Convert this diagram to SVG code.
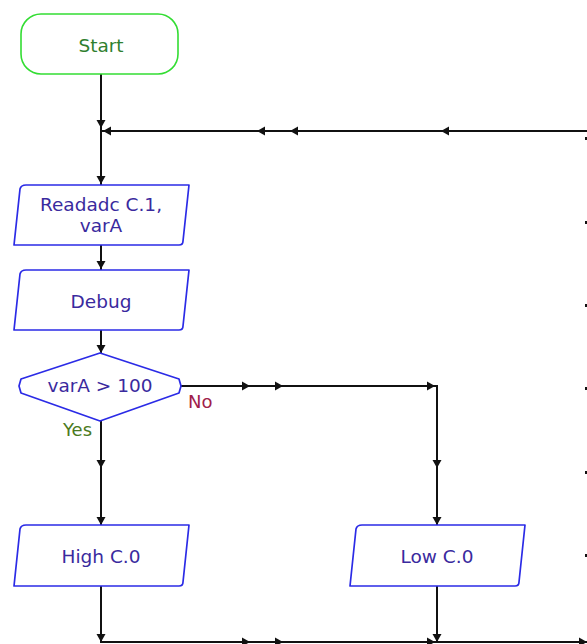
<svg xmlns="http://www.w3.org/2000/svg" width="587" height="644" viewBox="0 0 587 644">
<style>
.box{fill:#fff;stroke:#2b2be6;stroke-width:1.7;stroke-linejoin:round}
.start{fill:#fff;stroke:#33dd33;stroke-width:1.6}
.t{font-family:"DejaVu Sans","Verdana",sans-serif;font-size:18.5px;text-anchor:middle;fill:#3a2a9e}
.ts{fill:#2f7f2f}
.no{font-family:"DejaVu Sans",sans-serif;font-size:18px;fill:#a0204a}
.yes{font-family:"DejaVu Sans",sans-serif;font-size:18px;fill:#4a7a20}
.ln{fill:none;stroke:#111;stroke-width:2}
.ah{fill:#111}
</style>
<defs>
<path id="ad" d="M-4.5,-8 L4.5,-8 L0,0 Z"/>
<path id="al" d="M0,0 L8,-4.5 L8,4.5 Z"/>
<path id="ar" d="M0,0 L-8,-4.5 L-8,4.5 Z"/>
</defs>
<g id="connectors">
<path class="ln" d="M101,74 V525"/>
<path class="ln" d="M587,131 H101"/>
<path class="ln" d="M181,386 H437 V525"/>
<path class="ln" d="M101,586 V642 H587"/>
<path class="ln" d="M437,586 V642"/>
<g class="ah">
<use href="#ad" x="101" y="128"/>
<use href="#ad" x="101" y="184"/>
<use href="#ad" x="101" y="269"/>
<use href="#ad" x="101" y="353"/>
<use href="#ad" x="101" y="468"/>
<use href="#ad" x="101" y="525"/>
<use href="#ad" x="437" y="468"/>
<use href="#ad" x="437" y="525"/>
<use href="#ad" x="101" y="642"/>
<use href="#ad" x="437" y="642"/>
<use href="#al" x="103" y="131"/>
<use href="#al" x="257" y="131"/>
<use href="#al" x="290" y="131"/>
<use href="#al" x="441" y="131"/>
<use href="#ar" x="250" y="386"/>
<use href="#ar" x="283" y="386"/>
<use href="#ar" x="435" y="386"/>
<use href="#ar" x="250" y="642"/>
<use href="#ar" x="283" y="642"/>
<use href="#ar" x="435" y="642"/>
<use href="#ar" x="587" y="642"/>
<rect x="585" y="137" width="2" height="3"/>
<rect x="585" y="221" width="2" height="3"/>
<rect x="585" y="304" width="2" height="3"/>
<rect x="585" y="387" width="2" height="3"/>
<rect x="585" y="471" width="2" height="3"/>
<rect x="585" y="554" width="2" height="3"/>
</g>
<text class="no" x="188" y="408">No</text>
<text class="yes" x="63" y="436">Yes</text>
</g>
<g id="start">
<rect class="start" x="21" y="14" width="157" height="60" rx="20" ry="20"/>
<text class="t ts" x="101" y="52">Start</text>
</g>
<g id="readadc">
<path class="box" d="M26,185 H189 L183,241 Q183,245 179,245 H14 L20,189 Q21,185 26,185 Z"/>
<text class="t" x="101" y="211">Readadc C.1,</text>
<text class="t" x="101" y="232">varA</text>
</g>
<g id="debug">
<path class="box" d="M26,270 H189 L183,326 Q183,330 179,330 H14 L20,274 Q21,270 26,270 Z"/>
<text class="t" x="101" y="308">Debug</text>
</g>
<g id="decision">
<polygon class="box" points="21,379 100,353 179,379 181,386 179,393 100,421 21,393 19,386"/>
<text class="t" x="100" y="392">varA &gt; 100</text>
</g>
<g id="high">
<path class="box" d="M26,525 H189 L183,582 Q183,586 179,586 H14 L20,529 Q21,525 26,525 Z"/>
<text class="t" x="101" y="563">High C.0</text>
</g>
<g id="low">
<path class="box" d="M362,525 H525 L519,582 Q519,586 515,586 H350 L356,529 Q357,525 362,525 Z"/>
<text class="t" x="437" y="563">Low C.0</text>
</g>
</svg>
